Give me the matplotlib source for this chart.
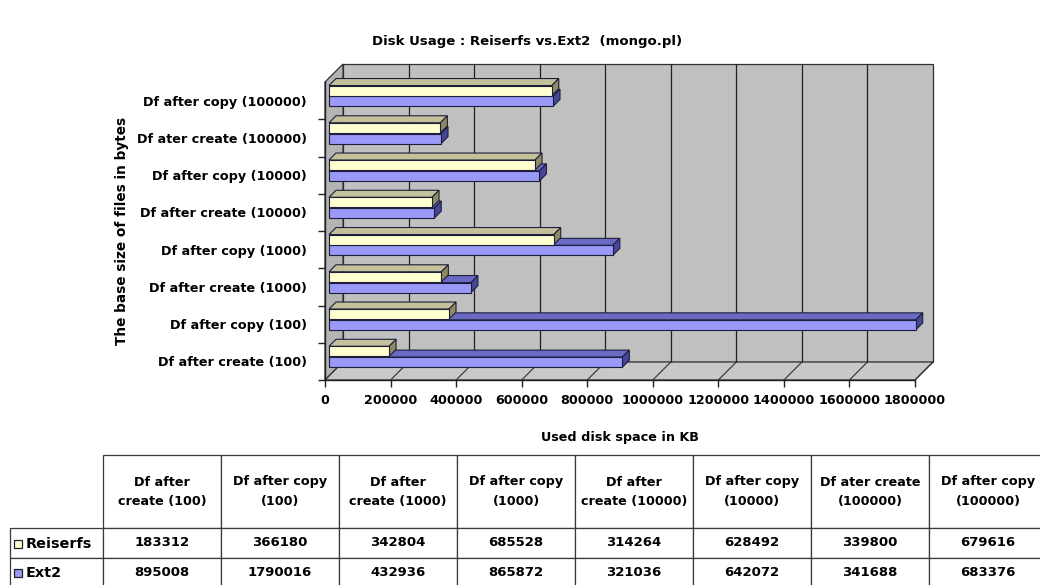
import textwrap
import matplotlib
matplotlib.use("Agg")
import matplotlib.pyplot as plt
from matplotlib.patches import Polygon, Rectangle
from matplotlib.collections import LineCollection
from matplotlib.transforms import Affine2D, IdentityTransform

# ---------------- data ----------------
categories = ["Df after create (100)", "Df after copy (100)",
              "Df after create (1000)", "Df after copy (1000)",
              "Df after create (10000)", "Df after copy (10000)",
              "Df ater create (100000)", "Df after copy (100000)"]
reiserfs = [183312, 366180, 342804, 685528, 314264, 628492, 339800, 679616]
ext2 = [895008, 1790016, 432936, 865872, 321036, 642072, 341688, 683376]
series_names = ["Reiserfs", "Ext2"]
x_ticks = [0, 200000, 400000, 600000, 800000, 1000000, 1200000, 1400000, 1600000, 1800000]

title = "Disk Usage : Reiserfs vs.Ext2  (mongo.pl)"
x_label = "Used disk space in KB"
y_label = "The base size of files in bytes"

# ---------------- style ----------------
W, H = 1040, 585
FONT = "DejaVu Sans"
FS = 9.2
WALL = "#C0C0C0"
FLOOR = "#C8C8C8"
LWALL = "#B4B4B4"
front_cols = ["#FFFFD0", "#9999F8"]
top_cols = ["#C4C09A", "#6A6AC4"]
side_cols = ["#8E8B62", "#46469A"]
EDGE = "#1E1E3C"
WALL_D = (18, 18)   # depth of walls in pixels
BAR_D = (7, 7)      # depth of bars in pixels
BAR_SHIFT = 4       # bars sit slightly behind the front plane
BAR_H = 0.27
offsets = [0.27, -0.02]

fig = plt.figure(figsize=(W / 100, H / 100), dpi=100)


def px(x0, y0, x1, y1):
    return [x0 / W, 1 - y1 / H, (x1 - x0) / W, (y1 - y0) / H]


ax = fig.add_axes(px(325, 82, 915, 380))
ax.set_xlim(0, x_ticks[-1])
ax.set_ylim(-0.5, len(categories) - 0.5)
ax.patch.set_visible(False)
for s in ["top", "right"]:
    ax.spines[s].set_visible(False)
for s in ["left", "bottom"]:
    ax.spines[s].set_color("#202020")
    ax.spines[s].set_linewidth(1.0)
    ax.spines[s].set_zorder(50)

T = ax.transData
wall_tr = T + Affine2D().translate(*WALL_D)
ymin, ymax = ax.get_ylim()
xmax = x_ticks[-1]


def d(x, y):
    return T.transform((x, y))


def shift(p, v):
    return (p[0] + v[0], p[1] + v[1])


# back wall
ax.add_patch(Rectangle((0, ymin), xmax, ymax - ymin, transform=wall_tr,
                       facecolor=WALL, edgecolor="#303030", lw=0.9,
                       clip_on=False, zorder=1))
# left wall
p_ft, p_fb = d(0, ymax), d(0, ymin)
ax.add_patch(Polygon([p_ft, p_fb, shift(p_fb, WALL_D), shift(p_ft, WALL_D)],
                     closed=True, transform=IdentityTransform(),
                     facecolor=LWALL, edgecolor="#303030", lw=0.9,
                     clip_on=False, zorder=2))
# floor
p_rb = d(xmax, ymin)
ax.add_patch(Polygon([p_fb, p_rb, shift(p_rb, WALL_D), shift(p_fb, WALL_D)],
                     closed=True, transform=IdentityTransform(),
                     facecolor=FLOOR, edgecolor="#303030", lw=0.9,
                     clip_on=False, zorder=2))
# gridlines on back wall
ax.vlines(x_ticks[1:-1], ymin, ymax, transform=wall_tr, colors="#202020",
          lw=0.9, clip_on=False, zorder=3)
# gridlines on floor
floor_lines = [[d(t, ymin), shift(d(t, ymin), WALL_D)] for t in x_ticks[1:]]
ax.add_collection(LineCollection(floor_lines, transform=IdentityTransform(),
                                 colors="#303030", lw=0.8, clip_on=False,
                                 zorder=3))

# bars
bar_tr = T + Affine2D().translate(BAR_SHIFT, 0)
z = 10
ypos = list(range(len(categories)))
for i in ypos:
    for k, vals in ((1, ext2), (0, reiserfs)):
        v = vals[i]
        yc = i + offsets[k]
        yb, yt = yc - BAR_H / 2, yc + BAR_H / 2
        a = bar_tr.transform((0, yt))
        b = bar_tr.transform((v, yt))
        c = bar_tr.transform((v, yb))
        ax.add_patch(Polygon([a, b, shift(b, BAR_D), shift(a, BAR_D)],
                             closed=True, transform=IdentityTransform(),
                             facecolor=top_cols[k], edgecolor=EDGE, lw=0.8,
                             clip_on=False, zorder=z))
        ax.add_patch(Polygon([c, b, shift(b, BAR_D), shift(c, BAR_D)],
                             closed=True, transform=IdentityTransform(),
                             facecolor=side_cols[k], edgecolor=EDGE, lw=0.8,
                             clip_on=False, zorder=z))
        ax.barh([yc], [v], height=BAR_H, color=front_cols[k], edgecolor=EDGE,
                lw=0.8, transform=bar_tr, clip_on=False, zorder=z + 1)
        z += 2

ax.set_xlim(0, xmax)
ax.set_ylim(ymin, ymax)

# ticks
ax.set_xticks(x_ticks)
ax.set_xticklabels([str(t) for t in x_ticks], fontsize=FS,
                   fontweight="bold", family=FONT)
ax.tick_params(axis="x", direction="out", length=5, width=1, pad=5,
               color="#202020")
ax.set_yticks(ypos)
ax.set_yticklabels(categories, fontsize=FS, fontweight="bold", family=FONT)
ax.tick_params(axis="y", which="major", length=0, pad=13)
ax.set_yticks([i - 0.5 for i in range(len(categories))], minor=True)
ax.tick_params(axis="y", which="minor", direction="out", length=5, width=1,
               color="#202020")

# titles
fig.text(527 / W, 1 - 42 / H, title, ha="center", va="center",
         fontsize=FS + 0.3, fontweight="bold", family=FONT)
fig.text(620 / W, 1 - 438 / H, x_label, ha="center", va="center",
         fontsize=FS, fontweight="bold", family=FONT)
fig.text(122 / W, 1 - 231 / H, y_label, ha="center", va="center",
         rotation=90, fontsize=FS + 0.6, fontweight="bold", family=FONT)

# ---------------- data table ----------------
tax = fig.add_axes([0, 0, 1, 1])
tax.set_axis_off()
tax.set_xlim(0, W)
tax.set_ylim(H, 0)

col_labels = [""] + [textwrap.fill(c, 14) for c in categories]
cell_text = [[""] + [str(v) for v in vals] for vals in (reiserfs, ext2)]
left, right, top, bottom = 10, 1047, 455, 588
tbl = tax.table(cellText=cell_text, colLabels=col_labels, cellLoc="center",
                colWidths=[93] + [118] * len(categories),
                bbox=[left / W, 1 - bottom / H, (right - left) / W,
                      (bottom - top) / H])
tbl.auto_set_font_size(False)
for (r, c), cell in tbl.get_celld().items():
    cell.set_height(73 if r == 0 else 30)
    cell.set_edgecolor("#3A3A3A")
    cell.set_linewidth(0.9)
    cell.get_text().set_fontsize(FS if r == 0 else FS + 0.3)
    cell.get_text().set_fontfamily(FONT)
    cell.get_text().set_fontweight("bold")
    cell.get_text().set_linespacing(1.6)
tbl[(0, 0)].visible_edges = "open"

row_centers = [544, 573]
for k, name in enumerate(series_names):
    yc = row_centers[k]
    tax.add_patch(Rectangle((14, yc - 4), 8, 8, facecolor=front_cols[k],
                            edgecolor="#202020", lw=0.9))
    tax.text(26, yc, name, ha="left", va="center", fontsize=FS + 1.2,
             fontweight="bold", family=FONT)

fig.savefig("out.png", dpi=100)
